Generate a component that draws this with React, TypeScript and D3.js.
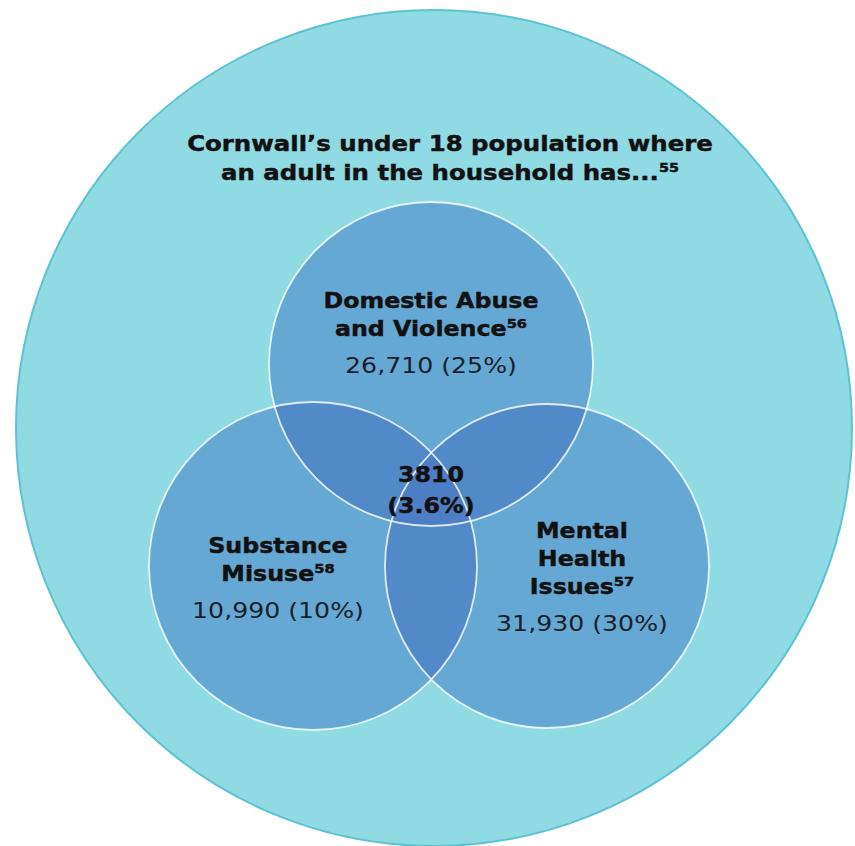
import React from "react";
import * as d3 from "d3";

const setNames = ["Domestic Abuse and Violence", "Substance Misuse", "Mental Health Issues"];
const labelLines = [["Domestic Abuse", "and Violence"], ["Substance", "Misuse"], ["Mental", "Health", "Issues"]];
const footnotes = ["56", "58", "57"];
const setValues = [26710, 10990, 31930];
const setPercents = [25, 10, 30];
const centreValue = 3810;
const centrePercent = 3.6;
const titleLines = ["Cornwall\u2019s under 18 population where", "an adult in the household has..."];
const titleNote = "55";

const W = 855;
const H = 846;
const FONT = "'DejaVu Sans', Verdana, sans-serif";

// layout (pixel units)
const outer = { cx: 434, cy: 428, r: 418 };
const circles = [
  { cx: 431, cy: 364, r: 162 },
  { cx: 313, cy: 566, r: 164 },
  { cx: 547, cy: 566, r: 162 },
];
const labelPos = [
  { x: 431, y: 308 },
  { x: 278, y: 553 },
  { x: 582, y: 538 },
];

const fmt = d3.format(",");

// Verdana is wider than DejaVu Sans: stretch horizontally about the anchor
const stretch = (x: number, sx: number) => `translate(${x} 0) scale(${sx} 1) translate(${-x} 0)`;
const SX_TITLE = 1.11;
const SX_BOLD = 1.13;
const SX_NUM = 1.2;
const BOLD_STROKE = 0.45;

export default function App() {
  const lineH = 28;
  const titleLineH = 29;
  const titleX = 450;
  const pairs: [number, number][] = [[0, 1], [0, 2], [1, 2]];
  return (
    <svg width={W} height={H} style={{ position: "absolute", left: 0, top: 0 }} fontFamily={FONT}>
      <defs>
        {circles.map((c, i) => (
          <clipPath id={`clip${i}`} key={i}>
            <circle cx={c.cx} cy={c.cy} r={c.r} />
          </clipPath>
        ))}
      </defs>
      <circle cx={outer.cx} cy={outer.cy} r={outer.r} fill="#8fdae3" stroke="#5cc3d3" strokeWidth={2} />
      <text
        textAnchor="middle"
        fontWeight="bold"
        fontSize={22}
        fill="#111"
        stroke="#111"
        strokeWidth={BOLD_STROKE}
        transform={stretch(titleX, SX_TITLE)}
      >
        <tspan x={titleX} y={151}>{titleLines[0]}</tspan>
        <tspan x={titleX} y={151 + titleLineH}>{titleLines[1]}</tspan>
        <tspan fontSize={13} dy={-8}>{titleNote}</tspan>
      </text>
      {circles.map((c, i) => (
        <circle key={i} cx={c.cx} cy={c.cy} r={c.r} fill="#66a8d4" />
      ))}
      {pairs.map(([a, b], k) => (
        <g key={k} clipPath={`url(#clip${a})`}>
          <circle cx={circles[b].cx} cy={circles[b].cy} r={circles[b].r} fill="#5289c9" />
        </g>
      ))}
      <g clipPath="url(#clip0)">
        <g clipPath="url(#clip1)">
          <circle cx={circles[2].cx} cy={circles[2].cy} r={circles[2].r} fill="#4d7ec6" />
        </g>
      </g>
      {circles.map((c, i) => (
        <circle key={i} cx={c.cx} cy={c.cy} r={c.r} fill="none" stroke="#ffffff" strokeOpacity={0.8} strokeWidth={1.8} />
      ))}
      {setNames.map((name, i) => {
        const lines = labelLines[i];
        const p = labelPos[i];
        return (
          <g key={name}>
            <text
              textAnchor="middle"
              fontWeight="bold"
              fontSize={21}
              fill="#111"
              stroke="#111"
              strokeWidth={BOLD_STROKE}
              transform={stretch(p.x, SX_BOLD)}
            >
              {lines.map((l, j) => (
                <tspan key={j} x={p.x} y={p.y + j * lineH}>{l}</tspan>
              ))}
              <tspan fontSize={13} dy={-8}>{footnotes[i]}</tspan>
            </text>
            <text
              x={p.x}
              y={p.y + (lines.length - 1) * lineH + 37}
              textAnchor="middle"
              fontSize={21}
              fill="#1a1f2b"
              transform={stretch(p.x, SX_NUM)}
            >
              {`${fmt(setValues[i])} (${setPercents[i]}%)`}
            </text>
          </g>
        );
      })}
      <text
        textAnchor="middle"
        fontWeight="bold"
        fontSize={21}
        fill="#111"
        stroke="#111"
        strokeWidth={BOLD_STROKE}
        transform={stretch(431, SX_BOLD)}
      >
        <tspan x={431} y={482}>{centreValue}</tspan>
        <tspan x={431} y={513}>{`(${centrePercent}%)`}</tspan>
      </text>
    </svg>
  );
}
